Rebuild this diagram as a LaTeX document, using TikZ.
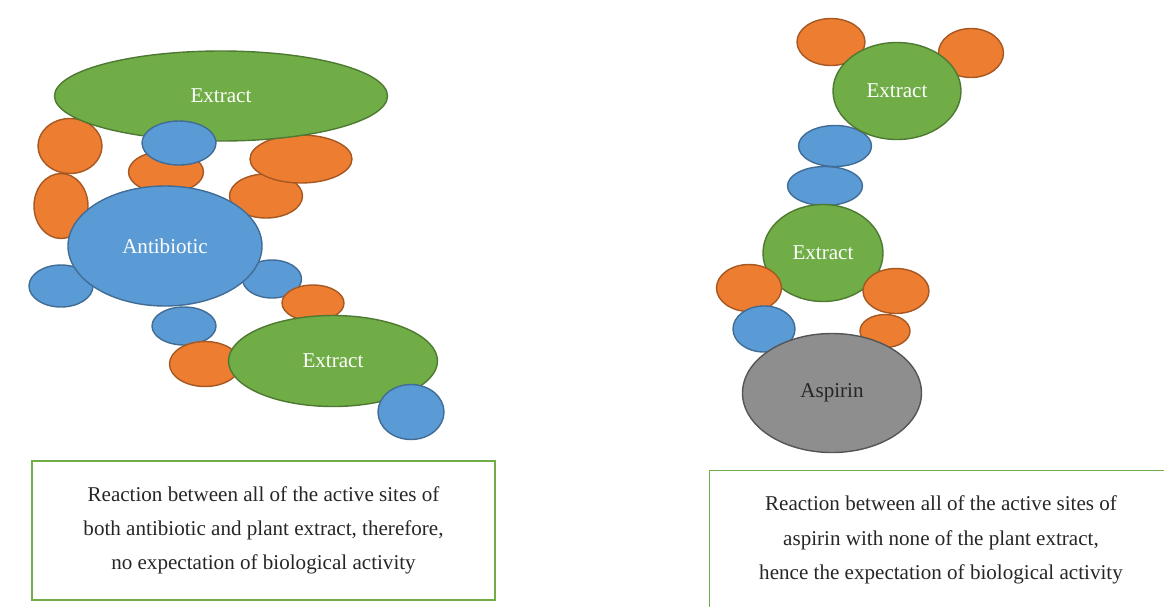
\documentclass[tikz,border=0pt]{standalone}
\usepackage{fontspec}
\setmainfont{Liberation Serif}
\usetikzlibrary{shapes.geometric}
\definecolor{sitegreen}{HTML}{70AD47}
\definecolor{siteblue}{HTML}{5B9BD5}
\definecolor{siteorange}{HTML}{ED7D31}
\definecolor{aspgray}{HTML}{8E8E8E}

\begin{document}
\begin{tikzpicture}[x=0.02cm, y=-0.02cm,
    blob/.style 2 args={ellipse, inner sep=0pt, line width=0.8pt,
      minimum width=#1*0.02cm, minimum height=#2*0.02cm},
    osite/.style={fill=siteorange, draw=siteorange!70!black},
    bsite/.style={fill=siteblue, draw=siteblue!70!black},
    extract/.style={fill=sitegreen, draw=sitegreen!70!black, text=white,
      font=\fontsize{12}{14}\selectfont},
    drug/.style={font=\fontsize{12}{14}\selectfont},
    caption/.style={draw=sitegreen, line width=1.1pt, align=center,
      minimum width=463*0.02cm, minimum height=139*0.02cm,
      font=\fontsize{12}{19.5}\selectfont, text=black!85}]
    \useasboundingbox (0,0) rectangle (1164,606);

    \node[osite, blob={64}{55}]  (lo1) at (70,146)  {};
    \node[osite, blob={54}{65}]  (lo2) at (61,206)  {};
    \node[osite, blob={75}{42}]  (lo3) at (166,172) {};
    \node[osite, blob={73}{44}]  (lo5) at (266,196) {};
    \node[osite, blob={102}{48}] (lo4) at (301,159) {};
    \node[bsite, blob={64}{42}]  (lb1) at (61,286)  {};
    \node[bsite, blob={59}{38}]  (lb2) at (272,279) {};
    \node[osite, blob={62}{36}]  (lo6) at (313,303) {};
    \node[bsite, blob={64}{38}]  (lb3) at (184,326) {};
    \node[osite, blob={71}{45}]  (lo7) at (205,364) {};
    \node[bsite, drug, text=white, blob={194}{120}] (anti) at (165,246) {Antibiotic};
    \node[extract, blob={333}{90}] (ext1) at (221,96)  {Extract};
    \node[extract, blob={209}{91}] (ext2) at (333,361) {Extract};
    \node[bsite, blob={74}{44}]  (lb4) at (179,143) {};
    \node[bsite, blob={66}{55}]  (lb5) at (411,412) {};

    \node[osite, blob={68}{47}]  (ro1) at (831,42)  {};
    \node[osite, blob={65}{49}]  (ro2) at (971,53)  {};
    \node[bsite, blob={75}{39}]  (rb2) at (825,186) {};
    \node[bsite, blob={73}{41}]  (rb1) at (835,146) {};
    \node[extract, blob={128}{97}] (ext3) at (897,91)  {Extract};
    \node[extract, blob={120}{97}] (ext4) at (823,253) {Extract};
    \node[osite, blob={65}{47}]  (ro3) at (749,288) {};
    \node[osite, blob={66}{45}]  (ro4) at (896,291) {};
    \node[bsite, blob={62}{46}]  (rb3) at (764,329) {};
    \node[osite, blob={50}{33}]  (ro5) at (885,331) {};
    \node[drug, fill=aspgray, draw=aspgray!60!black, text=black!85,
      blob={179}{119}] (asp) at (832,393) {Aspirin};

    \node[caption] (capl) at (263.5,530.5)
      {Reaction between all of the active sites of\\
       both antibiotic and plant extract, therefore,\\
       no expectation of biological activity};
    \node[caption] (capr) at (941,540)
      {Reaction between all of the active sites of\\
       aspirin with none of the plant extract,\\
       hence the expectation of biological activity};
\end{tikzpicture}
\end{document}
